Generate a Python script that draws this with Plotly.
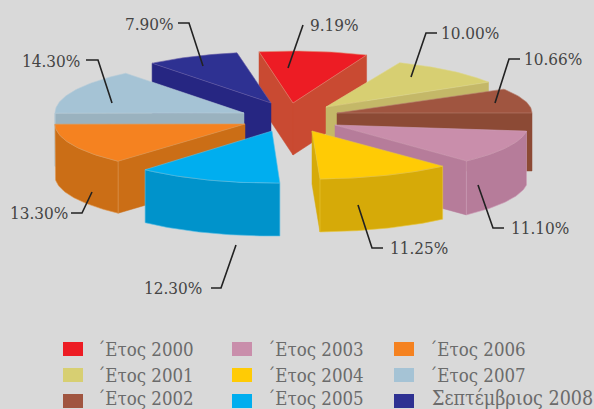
import math
import plotly.graph_objects as go

# ---- data ----
names = ["΄Ετος 2000", "΄Ετος 2001", "΄Ετος 2002", "΄Ετος 2003", "΄Ετος 2004",
         "΄Ετος 2005", "΄Ετος 2006", "΄Ετος 2007", "Σεπτέμβριος 2008"]
shares = [9.19, 10.00, 10.66, 11.10, 11.25, 12.30, 13.30, 14.30, 7.90]
share_labels = ["9.19%", "10.00%", "10.66%", "11.10%", "11.25%", "12.30%", "13.30%", "14.30%", "7.90%"]

# ---- style and layout ----
top_colors = ["#ED1C24", "#D7CF72", "#A05540", "#C98EAB", "#FFCB05", "#00AEEF", "#F58220", "#A5C3D5", "#2E3192"]
side_colors = ["#C94A32", "#C4B868", "#8C4A35", "#B67C9A", "#D6AA08", "#0093CB", "#CB6E16", "#9AB2BF", "#262682"]
edge_colors = ["#E08A70", "#DDD68C", "#B5806E", "#CFA0B8", "#E8C840", "#5CBFE6", "#E09A55", "#B8CCD8", "#6A5FA8"]
apex = [(293, 103), (326, 107), (337, 113), (335, 125), (312, 131), (272, 131), (245, 124), (244, 113), (271, 103)]
rx = [190, 190, 195, 193, 192, 190, 190, 189, 190]
ry = [52, 48, 46, 49, 48, 52, 50, 51, 51]
depth = [52, 53, 58, 54, 53, 53, 52, 53, 53]
end_trim = [0, 0, 7.2, 0, 0, 0, 0, 0, 0]
start_angle = -10.3
draw_order = [0, 1, 2, 8, 7, 6, 3, 4, 5]
BG = "#D9D9D9"
FONT = "DejaVu Serif Condensed"

# leader lines: from slice to label
leaders = [
    [(288, 68), (303, 25)],
    [(411, 77), (426, 33), (437, 33)],
    [(495, 103), (509, 59), (520, 59)],
    [(478, 185), (493, 228), (504, 228)],
    [(358, 205), (372, 248), (383, 248)],
    [(236, 245), (221, 288), (211, 288)],
    [(92, 192), (82, 213), (71, 213)],
    [(112, 103), (98, 60), (86, 60)],
    [(203, 66), (189, 23), (178, 23)],
]
label_pos = [(308, 25, "left"), (439, 33, "left"), (522, 59, "left"), (509, 228, "left"), (388, 248, "left"),
             (204, 288, "right"), (70, 213, "right"), (82, 61, "right"), (176, 24, "right")]
legend_x = [63, 63, 63, 232, 232, 232, 394, 394, 394]
legend_y = [349, 375, 401, 349, 375, 401, 349, 375, 401]
legend_ty = [349, 375, 398, 349, 375, 398, 349, 375, 398]
legend_tx = [95, 95, 95, 265, 265, 265, 427, 427, 430]
legend_size = [18.5, 18.5, 18.5, 18.5, 18.5, 18.5, 18.5, 18.5, 19.5]


def point(i, ang):
    a = math.radians(ang)
    return apex[i][0] + rx[i] * math.sin(a), apex[i][1] - ry[i] * math.cos(a)


def arc(i, a0, a1):
    n = max(2, int(abs(a1 - a0)) + 1)
    return [point(i, a0 + (a1 - a0) * k / (n - 1)) for k in range(n)]


def poly(fig, pts, fill, line, width=0.7):
    fig.add_trace(go.Scatter(x=[p[0] for p in pts] + [pts[0][0]], y=[p[1] for p in pts] + [pts[0][1]],
                             mode="lines", fill="toself", fillcolor=fill,
                             line=dict(color=line, width=width), hoverinfo="skip", showlegend=False))


# cumulative angles derived from the shares
total = sum(shares)
starts, ends = [], []
cur = start_angle
for s in shares:
    starts.append(cur)
    cur += s / total * 360
    ends.append(cur)
ends = [e - t for e, t in zip(ends, end_trim)]

fig = go.Figure()
for i in draw_order:
    a0, a1 = starts[i], ends[i]
    d = depth[i]
    ax, ay = apex[i]
    # radial faces that look toward the viewer
    if math.sin(math.radians(a0)) < 0:
        p = point(i, a0)
        poly(fig, [(ax, ay), p, (p[0], p[1] + d), (ax, ay + d)], side_colors[i], side_colors[i], 0.5)
    if math.sin(math.radians(a1)) > 0:
        p = point(i, a1)
        poly(fig, [(ax, ay), p, (p[0], p[1] + d), (ax, ay + d)], side_colors[i], side_colors[i], 0.5)
    # outer wall, lower half only
    w0, w1 = max(a0, 90), min(a1, 270)
    if w1 > w0:
        rim = arc(i, w0, w1)
        poly(fig, rim + [(x, y + d) for x, y in reversed(rim)], side_colors[i], edge_colors[i], 0.6)
    # top surface
    poly(fig, [(ax, ay)] + arc(i, a0, a1), top_colors[i], edge_colors[i], 0.6)

# leader lines
for pts in leaders:
    fig.add_trace(go.Scatter(x=[p[0] for p in pts], y=[p[1] for p in pts], mode="lines",
                             line=dict(color="#222222", width=1.6), hoverinfo="skip", showlegend=False))

# legend swatches
for i, n in enumerate(names):
    lx, ly = legend_x[i], legend_y[i]
    poly(fig, [(lx, ly - 7), (lx + 20, ly - 7), (lx + 20, ly + 7), (lx, ly + 7)], top_colors[i], top_colors[i], 0)

annotations = []
for t, (x, y, side) in zip(share_labels, label_pos):
    annotations.append(dict(x=x, y=y, text=t, showarrow=False, xanchor=side, yanchor="middle",
                            font=dict(family=FONT, size=17, color="#444444")))
for i, n in enumerate(names):
    annotations.append(dict(x=legend_tx[i], y=legend_ty[i], text=n, showarrow=False, xanchor="left", yanchor="middle",
                            font=dict(family=FONT, size=legend_size[i], color="#6B6B6B")))

fig.update_layout(
    width=594, height=409, margin=dict(l=0, r=0, t=0, b=0),
    paper_bgcolor=BG, plot_bgcolor=BG, showlegend=False, annotations=annotations,
    xaxis=dict(range=[0, 594], visible=False, fixedrange=True),
    yaxis=dict(range=[409, 0], visible=False, fixedrange=True),
)
fig.write_html("out.html", config=dict(displayModeBar=False),
               post_script="document.body.style.margin='0';document.body.style.overflow='hidden';document.body.style.background='#D9D9D9';")
